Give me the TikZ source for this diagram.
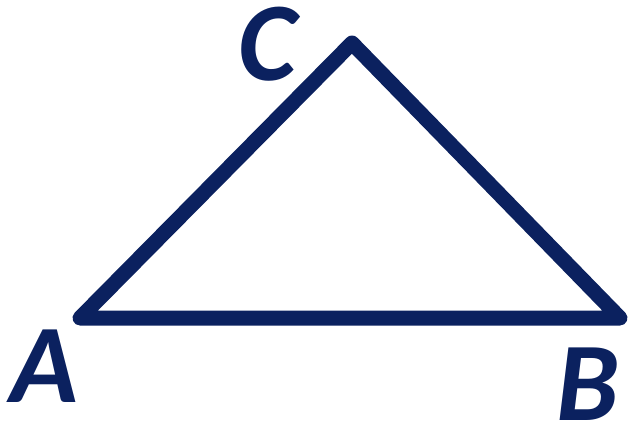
\documentclass[tikz,border=0pt]{standalone}
\usepackage{fontspec}
\setmainfont{Carlito}
\definecolor{navy}{HTML}{0B215F}
\begin{document}
\begin{tikzpicture}[x=1pt,y=-1pt,
  side/.style={draw=navy,line width=15pt,line join=round},
  vlabel/.style={text=navy,inner sep=0pt,anchor=base,font=\fontsize{112}{112}\selectfont\bfseries\itshape}]
\useasboundingbox (0,0) rectangle (630,426);
\coordinate (A) at (80,318);
\coordinate (B) at (620,318);
\coordinate (C) at (352,43);
\draw[side] (A) -- (B) -- (C) -- cycle;
\node[vlabel] (lc) at (268,80) {C};
\node[vlabel] (la) at (44,402) {A};
\node[vlabel] (lb) at (588,420) {B};
\end{tikzpicture}
\end{document}
